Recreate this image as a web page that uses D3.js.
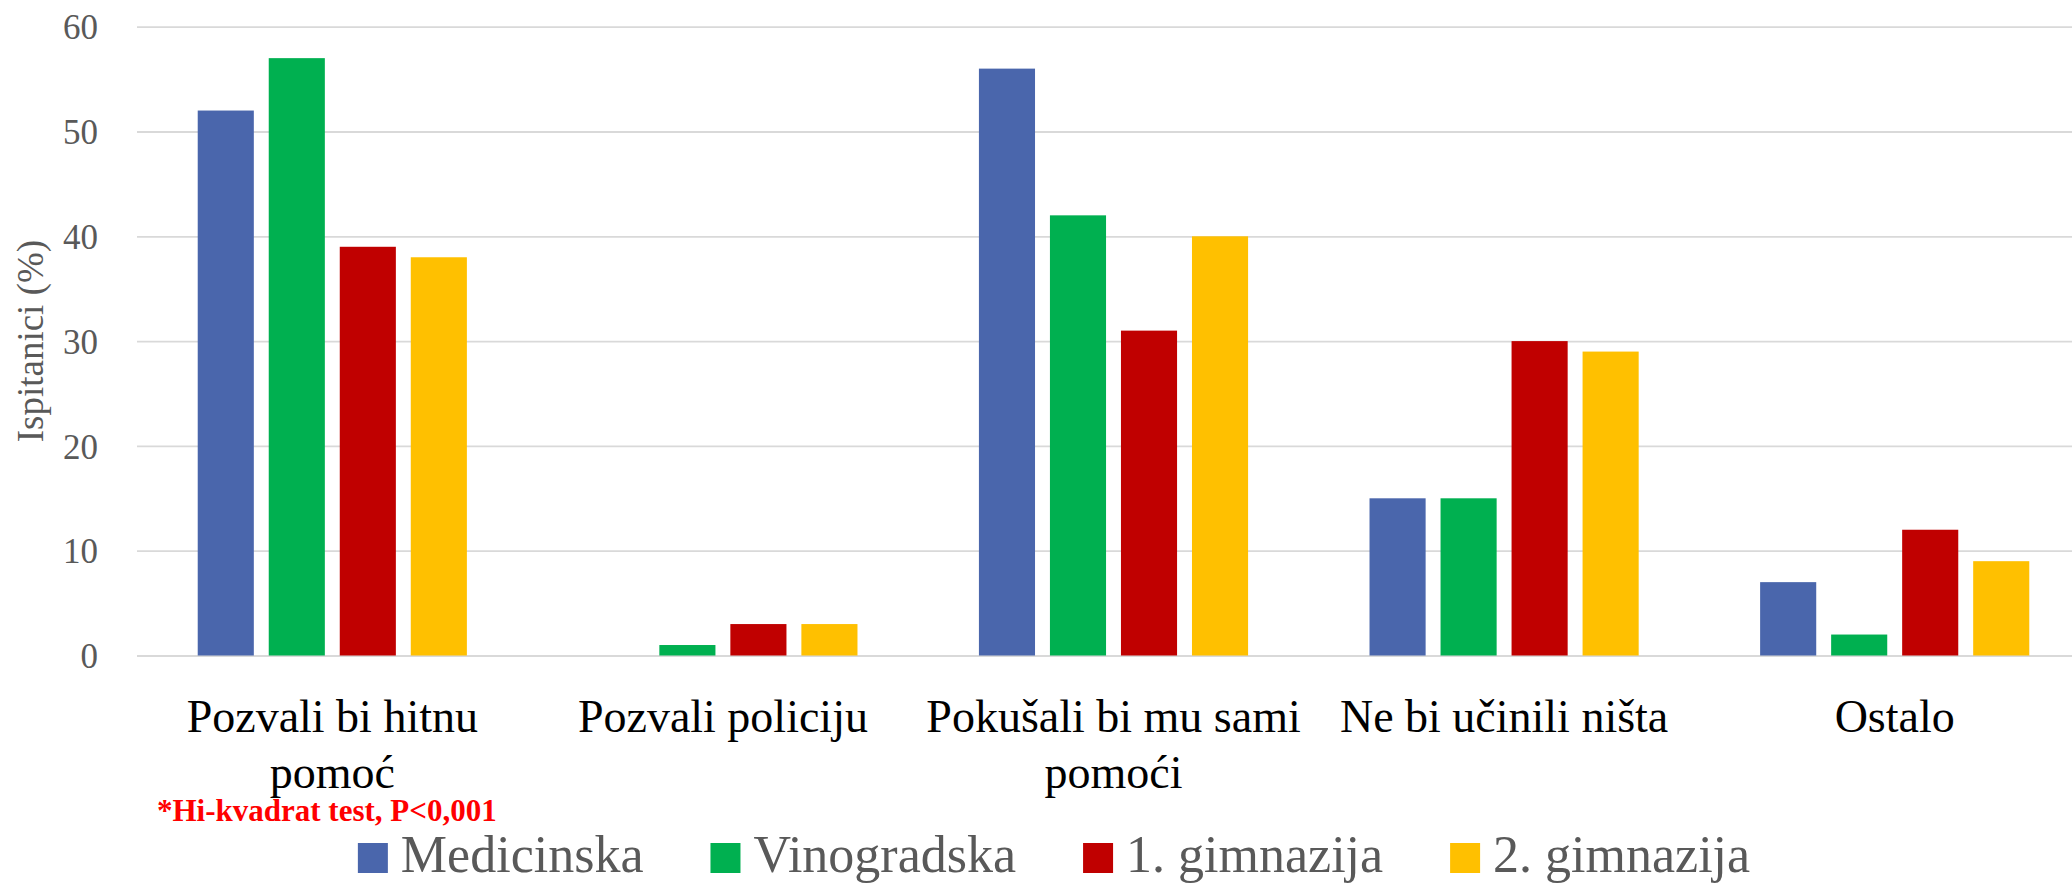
<!doctype html>
<html lang="hr">
<head>
  <meta charset="utf-8">
  <title>Ispitanici (%)</title>
  <style>
   body { margin: 0; background: #fff; }
   svg { display: block; font-family: "Liberation Serif", "Times New Roman", serif; }
   .grid line { stroke: #d9d9d9; stroke-width: 1.8; }
   .grid text { fill: #595959; font-size: 35px; font-family: "Liberation Serif", "Times New Roman", serif; }
   .cat { fill: #000; font-size: 46px; }
   .ytitle { fill: #595959; font-size: 37px; }
   .note { fill: #ff0000; font-size: 31px; font-weight: bold; }
   .legend text { fill: #595959; font-size: 52px; }
  </style>
</head>
<body>
<svg id="chart" width="2072" height="884"></svg>
<script src="https://d3js.org/d3.v7.min.js"></script>
<script>
 // categories (x axis)
 var categories = ["Pozvali bi hitnu pomoć", "Pozvali policiju", "Pokušali bi mu sami pomoći", "Ne bi učinili ništa", "Ostalo"];
 // schools (series)
 var series = ["Medicinska", "Vinogradska", "1. gimnazija", "2. gimnazija"];
 var colors = ["#4a66ac", "#00b050", "#c00000", "#ffc000"];
 // percentages per series, in category order
 var medicinska  = [52, 0, 56, 15, 7];
 var vinogradska = [57, 1, 42, 15, 2];
 var gimnazija1  = [39, 3, 31, 30, 12];
 var gimnazija2  = [38, 3, 40, 29, 9];
 var yTicks = [0, 10, 20, 30, 40, 50, 60];
 var yTitle = "Ispitanici (%)";
 var note = "*Hi-kvadrat test, P<0,001";

 var values = [medicinska, vinogradska, gimnazija1, gimnazija2];

 var svg = d3.select("#chart");
 svg.append("rect").attr("width", 2072).attr("height", 884).attr("fill", "#fff");

 // plot area (right edge runs past the picture, as in the original crop)
 var plotLeft = 137, plotRight = 2090, plotTop = 26.7, plotBottom = 655.5;

 var x0 = d3.scaleBand().domain(categories).range([plotLeft, plotRight]).padding(0);
 var x1 = d3.scaleBand().domain(series).range([0, x0.bandwidth()])
	    .paddingInner(0.21).paddingOuter(0.855);
 var y = d3.scaleLinear().domain([0, 60]).range([plotBottom, plotTop]);
 var color = d3.scaleOrdinal().domain(series).range(colors);

 // gridlines + y labels
 var yAxis = d3.axisLeft(y)
	       .tickValues(yTicks)
	       .tickSize(-(plotRight - plotLeft))
	       .tickPadding(plotLeft - 98)
	       .tickFormat(d3.format("d"));
 var g = svg.append("g")
	    .attr("class", "grid")
	    .attr("transform", "translate(" + plotLeft + ",0)")
	    .call(yAxis)
	    .attr("font-family", null)
	    .attr("font-size", null);
 g.select(".domain").remove();
 g.selectAll("text").attr("dy", "0.35em");

 // bars
 var rows = [];
 categories.forEach(function(c, i) {
     series.forEach(function(s, j) {
	 rows.push({cat: c, ser: s, val: values[j][i]});
     });
 });
 svg.append("g").selectAll("rect")
    .data(rows).enter()
    .append("rect")
    .attr("x", function(d) { return x0(d.cat) + x1(d.ser); })
    .attr("y", function(d) { return y(d.val); })
    .attr("width", x1.bandwidth())
    .attr("height", function(d) { return y(0) - y(d.val); })
    .attr("fill", function(d) { return color(d.ser); });

 // category labels, wrapped to the band width
 function wrap(textSel, width) {
     textSel.each(function() {
	 var text = d3.select(this),
	     words = text.text().split(" "),
	     line = [],
	     tspan = text.text(null).append("tspan").attr("x", text.attr("x")).attr("dy", 0);
	 words.forEach(function(w) {
	     line.push(w);
	     tspan.text(line.join(" "));
	     if (tspan.node().getComputedTextLength() > width && line.length > 1) {
		 line.pop();
		 tspan.text(line.join(" "));
		 line = [w];
		 tspan = text.append("tspan").attr("x", text.attr("x")).attr("dy", 56).text(w);
	     }
	 });
     });
 }
 svg.append("g").selectAll("text")
    .data(categories).enter()
    .append("text")
    .attr("class", "cat")
    .attr("x", function(d) { return x0(d) + x0.bandwidth() / 2; })
    .attr("y", 732)
    .attr("text-anchor", "middle")
    .text(function(d) { return d; })
    .call(wrap, x0.bandwidth() - 4);

 // y title
 svg.append("text")
    .attr("class", "ytitle")
    .attr("transform", "translate(43," + ((plotTop + plotBottom) / 2) + ") rotate(-90)")
    .attr("text-anchor", "middle")
    .text(yTitle);

 // footnote
 svg.append("text")
    .attr("class", "note")
    .attr("x", 157)
    .attr("y", 821)
    .text(note);

 // legend
 var leg = svg.append("g").attr("class", "legend");
 var items = leg.selectAll("g").data(series).enter().append("g");
 items.append("rect")
      .attr("y", 843).attr("width", 30).attr("height", 30)
      .attr("fill", function(d) { return color(d); });
 items.append("text")
      .attr("x", 43).attr("y", 872)
      .text(function(d) { return d; });
 var pos = 0;
 items.each(function() {
     var w = d3.select(this).select("text").node().getComputedTextLength();
     this._x = pos;
     pos += 43 + w + 67;
 });
 var total = pos - 67;
 var start = 1054 - total / 2;
 items.attr("transform", function() { return "translate(" + (start + this._x) + ",0)"; });
</script>
</body>
</html>
